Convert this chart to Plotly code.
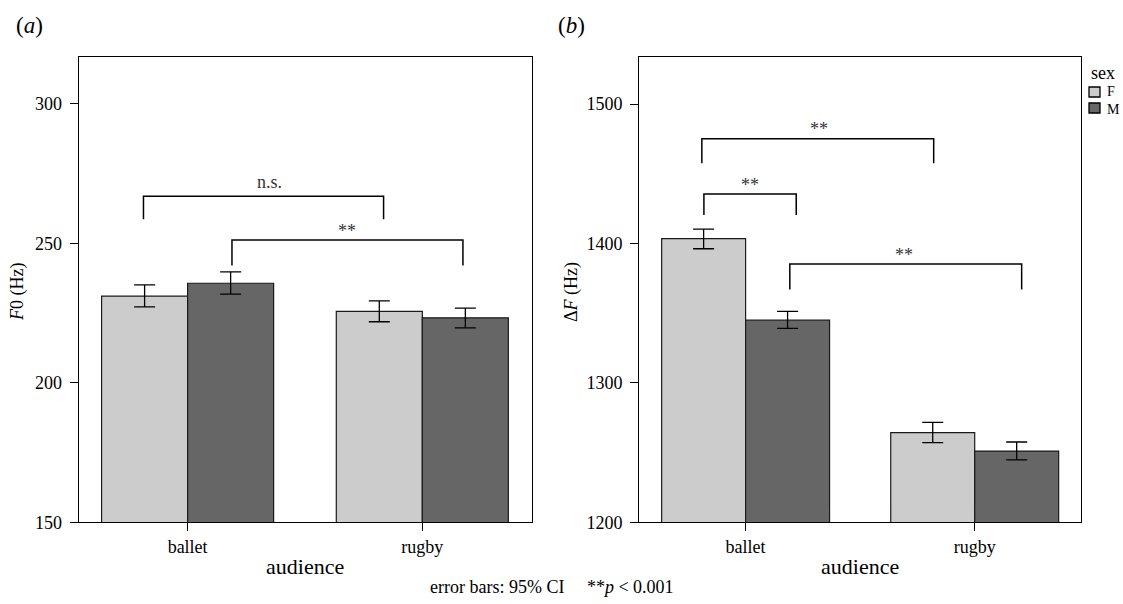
import plotly.graph_objects as go

W, H = 1123, 604

# ---------------- data ----------------
audience = ["ballet", "rugby"]
audience_pos = [1, 2]

f0_F = [231.1, 225.6]
f0_F_lo = [227.2, 221.9]
f0_F_hi = [235.1, 229.4]
f0_M = [235.7, 223.3]
f0_M_lo = [231.8, 219.7]
f0_M_hi = [239.8, 226.8]

dF_F = [1403.4, 1264.3]
dF_F_lo = [1396.2, 1257.1]
dF_F_hi = [1410.3, 1271.7]
dF_M = [1345.0, 1251.1]
dF_M_lo = [1339.1, 1244.7]
dF_M_hi = [1351.3, 1257.6]

f0_ticks = [150, 200, 250, 300]
dF_ticks = [1200, 1300, 1400, 1500]

sex_levels = ["F", "M"]

# significance brackets: (x_left, x_right, y_top, y_bottom, label, label_x, label_y)
f0_brackets = [
    (0.812, 1.835, 266.9, 258.6, "n.s.", 1.35, 272.0),
    (1.189, 2.173, 251.2, 242.1, "**", 1.68, 254.5),
]
dF_brackets = [
    (0.809, 1.821, 1475.1, 1457.5, "**", 1.32, 1482.0),
    (0.818, 1.221, 1435.4, 1420.4, "**", 1.02, 1442.0),
    (1.193, 2.205, 1385.2, 1367.0, "**", 1.69, 1392.0),
]

COL_F = "#cccccc"
COL_M = "#666666"
FONT = "Liberation Serif"


def px_x(p):
    return p / W


def px_y(p):
    return 1 - p / H


def err(mean, lo, hi):
    return dict(type="data", symmetric=False,
                array=[h - m for m, h in zip(mean, hi)],
                arrayminus=[m - l for m, l in zip(mean, lo)],
                color="black", thickness=1.3, width=10.5)


fig = go.Figure()
for (vals, lo, hi, col, name, xa, ya) in [
    (f0_F, f0_F_lo, f0_F_hi, COL_F, "F", "x", "y"),
    (f0_M, f0_M_lo, f0_M_hi, COL_M, "M", "x", "y"),
    (dF_F, dF_F_lo, dF_F_hi, COL_F, "F", "x2", "y2"),
    (dF_M, dF_M_lo, dF_M_hi, COL_M, "M", "x2", "y2"),
]:
    fig.add_trace(go.Bar(
        x=audience_pos, y=vals, name=name, xaxis=xa, yaxis=ya,
        marker=dict(color=col, line=dict(color="#1a1a1a", width=1.2)),
        error_y=err(vals, lo, hi), showlegend=False,
    ))

axis_common = dict(showline=True, mirror=True, linecolor="black", linewidth=1.3,
                   ticks="outside", ticklen=8, tickwidth=1.3, tickcolor="black",
                   showgrid=False, zeroline=False, automargin=False,
                   tickfont=dict(family=FONT, size=18, color="black"))

ydom = [px_y(522.3), px_y(57.3)]
fig.update_layout(
    width=W, height=H, autosize=False,
    margin=dict(l=0, r=0, t=0, b=0, pad=0),
    paper_bgcolor="white", plot_bgcolor="white",
    barmode="group", bargap=0.267, bargroupgap=0,
    font=dict(family=FONT, size=18, color="black"),
    xaxis=dict(domain=[px_x(78.7), px_x(531.7)], range=[0.536, 2.466],
               tickvals=audience_pos, ticktext=audience, anchor="y", **axis_common),
    yaxis=dict(domain=ydom, range=[150, 316.7], tickvals=f0_ticks, anchor="x",
               ticklabelstandoff=4, **axis_common),
    xaxis2=dict(domain=[px_x(639.3), px_x(1081)], range=[0.536, 2.464],
                tickvals=audience_pos, ticktext=audience, anchor="y2", **axis_common),
    yaxis2=dict(domain=ydom, range=[1200, 1533.5], tickvals=dF_ticks, anchor="x2",
                ticklabelstandoff=4, **axis_common),
)

shapes = []
annotations = []
for brs, xr, yr in [(f0_brackets, "x", "y"), (dF_brackets, "x2", "y2")]:
    for (xl, xrr, yt, yb, lab, lx, ly) in brs:
        shapes.append(dict(type="path", xref=xr, yref=yr,
                           path=f"M {xl},{yb} L {xl},{yt} L {xrr},{yt} L {xrr},{yb}",
                           line=dict(color="black", width=1.5)))
        annotations.append(dict(text=lab, x=lx, y=ly, xref=xr, yref=yr, showarrow=False,
                                xanchor="center", yanchor="middle",
                                font=dict(family=FONT, size=18, color="#333333")))


def note(text, x, y, size, xanchor="center", angle=0, align="center"):
    annotations.append(dict(text=text, x=px_x(x), y=px_y(y), xref="paper", yref="paper",
                            xanchor=xanchor, yanchor="middle", showarrow=False, align=align,
                            textangle=angle, font=dict(family=FONT, size=size, color="black")))


# panel labels
note("(<i>a</i>)", 14, 25, 23, "left")
note("(<i>b</i>)", 556, 25, 23, "left")
# y titles
note("<i>F</i>0 (Hz)", 17, 292, 18, angle=-90)
note("Δ<i>F</i> (Hz)", 571, 292, 18, angle=-90)
# x titles
note("audience", (78.7 + 531.7) / 2, 566, 22)
note("audience", (639.3 + 1081) / 2, 566, 22)
# footer
note("error bars: 95% CI &nbsp;&nbsp;&nbsp; **<i>p</i> &lt; 0.001", 552, 587, 18)

# legend (sex)
note("sex", 1089, 73, 18, "left")
for col, yc in [(COL_F, 92), (COL_M, 108)]:
    shapes.append(dict(type="rect", xref="paper", yref="paper",
                       x0=px_x(1089), x1=px_x(1100), y0=px_y(yc - 5), y1=px_y(yc + 5),
                       fillcolor=col, line=dict(color="black", width=1.3)))
note("<br>".join(sex_levels), 1105, 100.5, 14, "left", align="left")

fig.update_layout(shapes=shapes, annotations=annotations)
fig.write_html("out.html", config={"displayModeBar": False},
               post_script="document.body.style.margin='0';document.body.style.overflow='hidden';")
